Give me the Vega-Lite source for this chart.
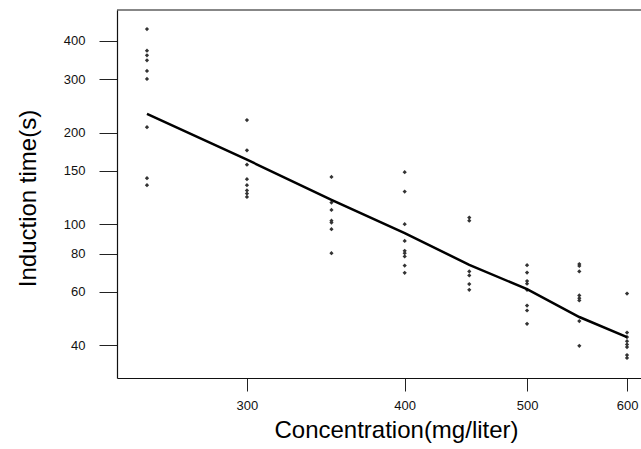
{
  "$schema": "https://vega.github.io/schema/vega-lite/v6.json",
  "autosize": "none",
  "width": 524,
  "height": 368,
  "padding": {"left": 117, "top": 10, "right": 0, "bottom": 71},
  "background": "white",
  "config": {
    "view": {"stroke": null},
    "font": "Liberation Sans",
    "axis": {
      "grid": false,
      "domainColor": "#111",
      "domainWidth": 1.2,
      "tickColor": "#222",
      "labelColor": "#111",
      "titleColor": "#000",
      "labelFont": "Liberation Sans",
      "titleFont": "Liberation Sans",
      "titleFontWeight": "normal",
      "labelFontSize": 13,
      "titleFontSize": 24
    }
  },
  "datasets": {
    "obs": [
      {"conc": 250, "time": 437.8}, {"conc": 250, "time": 371.7}, {"conc": 250, "time": 359}, {"conc": 250, "time": 345.7}, {"conc": 250, "time": 318.8}, {"conc": 250, "time": 300.1}, {"conc": 250, "time": 208.4}, {"conc": 250, "time": 141.7}, {"conc": 250, "time": 134.4},
      {"conc": 300, "time": 220}, {"conc": 300, "time": 175}, {"conc": 300, "time": 157}, {"conc": 300, "time": 140.6}, {"conc": 300, "time": 134.4}, {"conc": 300, "time": 129.2}, {"conc": 300, "time": 126.1}, {"conc": 300, "time": 123},
      {"conc": 350, "time": 143.1}, {"conc": 350, "time": 117.8}, {"conc": 350, "time": 111.5}, {"conc": 350, "time": 102.8}, {"conc": 350, "time": 101.3}, {"conc": 350, "time": 96.4}, {"conc": 350, "time": 80.4},
      {"conc": 400, "time": 148.3}, {"conc": 400, "time": 128.1}, {"conc": 400, "time": 100.1}, {"conc": 400, "time": 88.2}, {"conc": 400, "time": 81.8}, {"conc": 400, "time": 80.4}, {"conc": 400, "time": 78.4}, {"conc": 400, "time": 73.2}, {"conc": 400, "time": 69.3},
      {"conc": 450, "time": 105.2}, {"conc": 450, "time": 102.8}, {"conc": 450, "time": 70}, {"conc": 450, "time": 67.9}, {"conc": 450, "time": 63.6}, {"conc": 450, "time": 60.9},
      {"conc": 500, "time": 73.4}, {"conc": 500, "time": 69.4}, {"conc": 500, "time": 65.1}, {"conc": 500, "time": 63.8}, {"conc": 500, "time": 60.9}, {"conc": 500, "time": 54.1}, {"conc": 500, "time": 52.1}, {"conc": 500, "time": 47.1},
      {"conc": 550, "time": 74}, {"conc": 550, "time": 73}, {"conc": 550, "time": 70}, {"conc": 550, "time": 58.4}, {"conc": 550, "time": 57.2}, {"conc": 550, "time": 56.2}, {"conc": 550, "time": 48.1}, {"conc": 550, "time": 39.9},
      {"conc": 600, "time": 59.2}, {"conc": 600, "time": 44.1}, {"conc": 600, "time": 42.6}, {"conc": 600, "time": 41.3}, {"conc": 600, "time": 40.3}, {"conc": 600, "time": 39.5}, {"conc": 600, "time": 37.2}, {"conc": 600, "time": 36.4}
    ],
    "fit": [
      {"conc": 250, "time": 230.4}, {"conc": 300, "time": 163}, {"conc": 350, "time": 120.3}, {"conc": 400, "time": 93.5},
      {"conc": 450, "time": 73.6}, {"conc": 500, "time": 61.2}, {"conc": 550, "time": 49.6}, {"conc": 600, "time": 42.6}
    ],
    "frame": [{"edge": "top", "time": 505.6}]
  },
  "layer": [
    {
      "data": {"name": "obs"},
      "mark": {"type": "point", "shape": "diamond", "filled": true, "size": 18, "color": "#333", "opacity": 1},
      "encoding": {
        "x": {
          "field": "conc", "type": "quantitative",
          "scale": {"type": "log", "domain": [236.7, 615.5], "nice": false, "zero": false},
          "axis": {
            "values": [300, 400, 500, 600], "tickSize": 13, "labelPadding": 8,
            "title": "Concentration(mg/liter)", "titleX": 279, "titleY": 52,
            "titleAlign": "center", "titleBaseline": "middle"
          }
        },
        "y": {
          "field": "time", "type": "quantitative",
          "scale": {"type": "log", "domain": [31.27, 505.6], "nice": false, "zero": false},
          "axis": {
            "values": [40, 60, 80, 100, 150, 200, 300, 400], "tickSize": 18, "labelPadding": 14,
            "title": "Induction time(s)", "titleAngle": -90, "titleX": -89, "titleY": 188,
            "titleAlign": "center", "titleBaseline": "middle"
          }
        }
      }
    },
    {
      "data": {"name": "fit"},
      "mark": {"type": "line", "color": "#000", "strokeWidth": 2.5},
      "encoding": {
        "x": {"field": "conc", "type": "quantitative"},
        "y": {"field": "time", "type": "quantitative"}
      }
    },
    {
      "data": {"name": "frame"},
      "mark": {"type": "rule", "color": "#111", "strokeWidth": 1.2},
      "encoding": {
        "y": {"field": "time", "type": "quantitative"}
      }
    }
  ]
}
